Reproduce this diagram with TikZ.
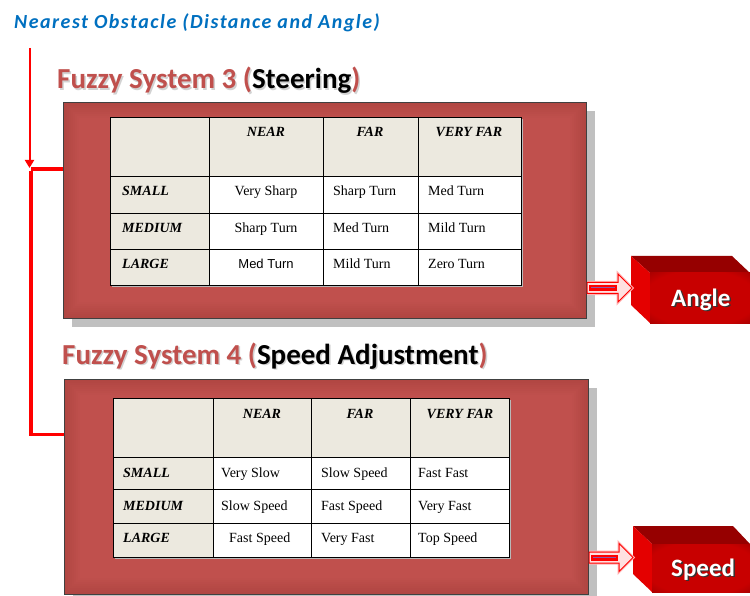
\documentclass[tikz,border=0pt]{standalone}
\usepackage{fontspec}
\setmainfont{Liberation Serif}
\newfontfamily\calfont{Carlito}
\newfontfamily\calspfont[LetterSpace=7.5]{Carlito}
\newfontfamily\arialfont{Liberation Sans}
\usetikzlibrary{arrows.meta}
\definecolor{boxred}{RGB}{192,80,77}
\definecolor{boxedge}{RGB}{176,70,66}
\definecolor{titlered}{RGB}{192,80,77}
\definecolor{beige}{RGB}{236,233,223}
\definecolor{obsblue}{RGB}{0,112,192}
\definecolor{shadowgray}{RGB}{192,192,192}
\definecolor{cubetop}{RGB}{150,0,0}
\definecolor{cubeside}{RGB}{228,0,0}
\definecolor{cubefront}{RGB}{200,0,0}
\definecolor{cubedark}{RGB}{125,0,0}
\definecolor{arrowline}{RGB}{140,90,170}
\newcommand\hdrfont{\fontsize{14}{16}\selectfont\bfseries\itshape}
\newcommand\cellfont{\fontsize{14}{16}\selectfont}
\newcommand\titlefont{\calfont\bfseries\fontsize{29}{31}\selectfont}
\newcommand\cubefont{\calfont\bfseries\fontsize{25}{27}\selectfont}
\pgfdeclareradialshading{cubeglow}{\pgfpoint{0bp}{0bp}}{color(0bp)=(cubefront); color(28bp)=(cubefront); color(48bp)=(cubedark); color(60bp)=(cubedark)}
\begin{document}
\begin{tikzpicture}[x=1pt,y=-1pt,
  tabline/.style={draw=black,line width=0.8pt},
  hdr/.style={font=\hdrfont,anchor=base,inner sep=0pt},
  rowlab/.style={font=\hdrfont,anchor=base west,inner sep=0pt},
  cellc/.style={font=\cellfont,anchor=base,inner sep=0pt},
  celll/.style={font=\cellfont,anchor=base west,inner sep=0pt},
  boxnode/.style={anchor=north west,inner sep=0pt,outer sep=0pt},
  boxborder/.style={draw=black!75,line width=0.8pt},
  titlenode/.style={font=\titlefont,anchor=base west,inner sep=0pt},
  redthin/.style={draw=red,line width=2pt},
  redthick/.style={draw=red,line width=3.4pt},
  cubetext/.style={font=\cubefont,anchor=base west,inner sep=0pt},
  blockarrow/.style={draw=red,line width=1pt,fill=red!12},
  arrowglow/.style={draw=red!30,line width=3pt}]
\useasboundingbox (0,0) rectangle (750,596);
\fill[white] (0,0) rectangle (750,596);

% ---------- top title ----------
\node[font=\calspfont\bfseries\itshape\fontsize{20}{22}\selectfont,text=obsblue,anchor=base west,inner sep=0pt] (obs) at (14,29) {Nearest Obstacle (Distance and Angle)};

% ---------- box 1 ----------
\node[boxnode,minimum width=523pt,minimum height=216pt] (box1) at (63,102) {};
\fill[shadowgray] ([shift={(9,9)}]box1.north west) rectangle ([shift={(9,9)}]box1.south east);
\fill[boxedge] (box1.north west) rectangle (box1.south east);
\foreach \i/\c in {2/12,4/25,6/38,8/50,10/62,12/75,14/88,16/100}{
  \fill[boxred!\c!boxedge] ([shift={(\i,\i)}]box1.north west) rectangle ([shift={(-\i,-\i)}]box1.south east);}
\draw[boxborder] (box1.north west) rectangle (box1.south east);

% title 1
\node[titlenode,text=gray!35] at (58.5,90.5) {Fuzzy System 3 (Steering)};
\node[titlenode,text=titlered] (t3) at (57,89) {Fuzzy System 3 (\textcolor{black}{Steering})};

% table 1
\fill[gray!55] (112,119) rectangle (523,287);
\fill[white] (110,117) rectangle (521,285);
\fill[beige] (110,117) rectangle (521,176);
\fill[beige] (110,176) rectangle (209,285);
\draw[tabline] (110,117) rectangle (521,285);
\draw[tabline] (209,117) -- (209,285) (323,117) -- (323,285) (418,117) -- (418,285);
\draw[tabline] (110,176) -- (521,176) (110,213) -- (521,213) (110,249) -- (521,249);
\node[hdr] (a-near) at (266,137) {NEAR};
\node[hdr] (a-far) at (370,137) {FAR};
\node[hdr] (a-vfar) at (469,137) {VERY FAR};
\node[rowlab] (a-small) at (122,196) {SMALL};
\node[rowlab] (a-medium) at (122,233) {MEDIUM};
\node[rowlab] (a-large) at (122,269) {LARGE};
\node[cellc] (a11) at (266,196) {Very Sharp};
\node[celll] (a12) at (333,196) {Sharp Turn};
\node[celll] (a13) at (428,196) {Med Turn};
\node[cellc] (a21) at (266,233) {Sharp Turn};
\node[celll] (a22) at (333,233) {Med Turn};
\node[celll] (a23) at (428,233) {Mild Turn};
\node[cellc,font=\arialfont\fontsize{13}{15}\selectfont] (a31) at (266,269) {Med Turn};
\node[celll] (a32) at (333,269) {Mild Turn};
\node[celll] (a33) at (428,269) {Zero Turn};

% ---------- box 2 ----------
\node[boxnode,minimum width=524pt,minimum height=215pt] (box2) at (64,379) {};
\fill[shadowgray] ([shift={(9,9)}]box2.north west) rectangle ([shift={(9,9)}]box2.south east);
\fill[boxedge] (box2.north west) rectangle (box2.south east);
\foreach \i/\c in {2/12,4/25,6/38,8/50,10/62,12/75,14/88,16/100}{
  \fill[boxred!\c!boxedge] ([shift={(\i,\i)}]box2.north west) rectangle ([shift={(-\i,-\i)}]box2.south east);}
\draw[boxborder] (box2.north west) rectangle (box2.south east);

% title 2
\node[titlenode,text=gray!35] at (63.5,365.5) {Fuzzy System 4 (Speed Adjustment)};
\node[titlenode,text=titlered] (t4) at (62,364) {Fuzzy System 4 (\textcolor{black}{Speed Adjustment})};

% table 2
\fill[gray!55] (115,400) rectangle (511,559);
\fill[white] (113,398) rectangle (509,557);
\fill[beige] (113,398) rectangle (509,457);
\fill[beige] (113,457) rectangle (213,557);
\draw[tabline] (113,398) rectangle (509,557);
\draw[tabline] (213,398) -- (213,557) (311,398) -- (311,557) (410,398) -- (410,557);
\draw[tabline] (113,457) -- (509,457) (113,489) -- (509,489) (113,523) -- (509,523);
\node[hdr] (b-near) at (262,418) {NEAR};
\node[hdr] (b-far) at (360,418) {FAR};
\node[hdr] (b-vfar) at (460,418) {VERY FAR};
\node[rowlab] (b-small) at (123,477) {SMALL};
\node[rowlab] (b-medium) at (123,510) {MEDIUM};
\node[rowlab] (b-large) at (123,542) {LARGE};
\node[celll] (b11) at (221,477) {Very Slow};
\node[celll] (b12) at (321,477) {Slow Speed};
\node[celll] (b13) at (418,477) {Fast Fast};
\node[celll] (b21) at (221,510) {Slow Speed};
\node[celll] (b22) at (321,510) {Fast Speed};
\node[celll] (b23) at (418,510) {Very Fast};
\node[celll] (b31) at (229,542) {Fast Speed};
\node[celll] (b32) at (321,542) {Very Fast};
\node[celll] (b33) at (418,542) {Top Speed};

% ---------- red connectors ----------
\coordinate (top) at (29.5,48);
\coordinate (split) at (31,169);
\coordinate (bend) at (31,434.5);
\draw[redthick] (split) -- (split -| box1.west);
\draw[redthick] ([yshift=-1.7]split) -- (bend) -- (bend -| box2.west);
\draw[redthin,-{Triangle[width=9pt,length=8pt]}] (top) -- (29.5,168);

% ---------- angle cube ----------
\coordinate (ca) at (631,256);
\fill[cubetop] (ca) -- (732,256) -- (750,273) -- (650,273) -- cycle;
\fill[cubeside] (ca) -- (650,273) -- (650,323) -- (631,305) -- cycle;
\shade[shading=cubeglow] (650,273) rectangle (750,323);
\node[cubetext,text=black!80] at (672.5,307.5) {Angle};
\node[cubetext,text=white] (angle) at (671,306) {Angle};

% ---------- speed cube ----------
\coordinate (cb) at (633,526);
\fill[cubetop] (cb) -- (733,526) -- (750,544) -- (652,544) -- cycle;
\fill[cubeside] (cb) -- (652,544) -- (652,592) -- (633,574) -- cycle;
\shade[shading=cubeglow] (652,544) rectangle (750,592);
\node[cubetext,text=black!80] at (672.5,577.5) {Speed};
\node[cubetext,text=white] (speed) at (671,576) {Speed};

% ---------- block arrows ----------
\begin{scope}[shift={(587,288)}]
  \draw[arrowglow] (0,-5.5) -- (31,-5.5) -- (31,-14) -- (45,0) -- (31,14) -- (31,5.5) -- (0,5.5);
  \draw[blockarrow] (0,-5.5) -- (31,-5.5) -- (31,-14) -- (45,0) -- (31,14) -- (31,5.5) -- (0,5.5) -- cycle;
  \fill[red] (2,-3) rectangle (30,3);
  \draw[arrowline,line width=1pt] (4,0) -- (28,0);
\end{scope}
\begin{scope}[shift={(589,557.5)}]
  \draw[arrowglow] (0,-5.5) -- (30,-5.5) -- (30,-14) -- (44,0) -- (30,14) -- (30,5.5) -- (0,5.5);
  \draw[blockarrow] (0,-5.5) -- (30,-5.5) -- (30,-14) -- (44,0) -- (30,14) -- (30,5.5) -- (0,5.5) -- cycle;
  \fill[red] (2,-3) rectangle (29,3);
  \draw[arrowline,line width=1pt] (4,0) -- (27,0);
\end{scope}
\end{tikzpicture}
\end{document}
